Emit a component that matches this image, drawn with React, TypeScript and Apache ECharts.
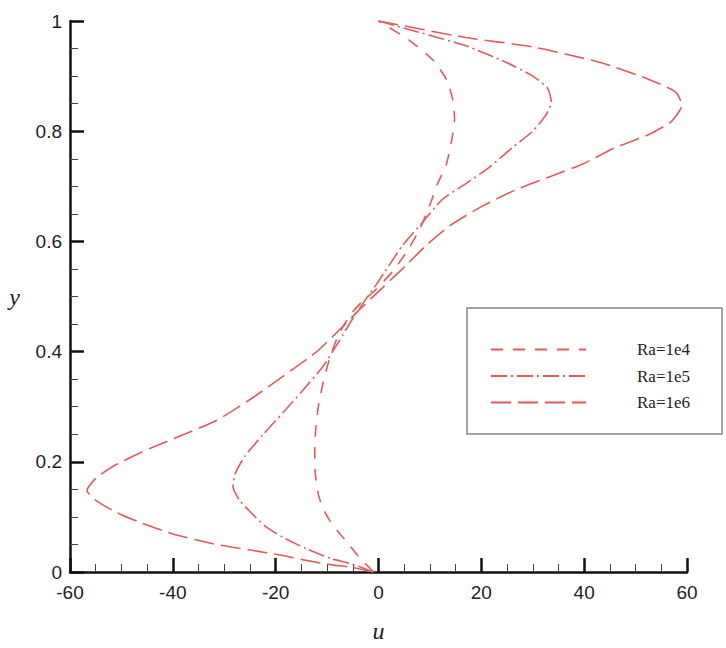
import React, { useEffect, useRef } from "react";
import * as echarts from "echarts";

const seriesNames = ["Ra=1e4", "Ra=1e5", "Ra=1e6"];

const ra1e4: [number, number][] = [
  [-1, 0], [-2.1, 0.011], [-3.7, 0.026], [-6.0, 0.053], [-8, 0.075], [-9.6, 0.095],
  [-11, 0.12], [-11.8, 0.145], [-12.3, 0.18], [-12.4, 0.22], [-12.2, 0.26], [-11.7, 0.3],
  [-10.9, 0.338], [-9.6, 0.385], [-7.8, 0.43], [-5.6, 0.465], [-3.3, 0.49], [-0.8, 0.51],
  [2.7, 0.545], [5.4, 0.58], [8, 0.622], [9.9, 0.664], [11.5, 0.705], [13.2, 0.74],
  [14.2, 0.782], [14.8, 0.823], [14.4, 0.859], [13.2, 0.894], [10.5, 0.93], [6, 0.965], [0, 1],
];

const ra1e5: [number, number][] = [
  [-1, 0], [-5, 0.014], [-9.4, 0.025], [-14, 0.042], [-18.6, 0.063], [-22, 0.083],
  [-24.5, 0.105], [-27, 0.13], [-28.3, 0.155], [-27.8, 0.18], [-26, 0.21], [-22.5, 0.249],
  [-18.6, 0.289], [-14.7, 0.33], [-10.8, 0.373], [-7.6, 0.42], [-5, 0.46], [-3, 0.488],
  [-0.4, 0.522], [2.1, 0.557], [4.7, 0.593], [8.5, 0.634], [12.4, 0.676], [17, 0.705],
  [21.6, 0.735], [26, 0.77], [30, 0.8], [32.6, 0.83], [33.6, 0.853], [32.9, 0.878],
  [30, 0.9], [24.8, 0.925], [17, 0.955], [7.3, 0.981], [0, 1],
];

const ra1e6: [number, number][] = [
  [-1, 0], [-5.5, 0.009], [-9, 0.013], [-14.6, 0.022], [-18.6, 0.03], [-25, 0.04],
  [-31.5, 0.05], [-40, 0.069], [-46.4, 0.09], [-50.9, 0.108], [-55, 0.13], [-56.7, 0.148],
  [-55, 0.17], [-51, 0.195], [-44.5, 0.224], [-38, 0.249], [-31.5, 0.275], [-25, 0.313],
  [-18.6, 0.355], [-12, 0.4], [-7, 0.445], [-3.5, 0.478], [0.8, 0.516], [5.4, 0.557],
  [9.3, 0.593], [13.8, 0.628], [20.2, 0.664], [26.8, 0.694], [33.2, 0.717], [39.6, 0.74],
  [46, 0.77], [52.6, 0.794], [57, 0.818], [59, 0.847], [57.8, 0.871], [52.6, 0.894],
  [43, 0.925], [30, 0.953], [17, 0.97], [0, 1],
];

const seriesData = [ra1e4, ra1e5, ra1e6];
const dashes = [[12, 10], [16, 4, 2, 4], [20, 7]];
const lineColor = "#e05c5c";

export default function App() {
  const ref = useRef<HTMLDivElement>(null);
  useEffect(() => {
    if (!ref.current) return;
    const chart = echarts.init(ref.current, null, { renderer: "svg" });
    const axisCommon = {
      axisLine: { show: true, onZero: false, lineStyle: { color: "#111", width: 2.5 } },
      axisTick: { show: true, inside: true, length: 14, lineStyle: { color: "#111", width: 2.5 } },
      minorTick: { show: true, splitNumber: 4, length: 8, lineStyle: { color: "#444", width: 1 } },
      splitLine: { show: false },
      axisLabel: { fontFamily: "Liberation Sans", fontSize: 19, color: "#222" },
    };
    chart.setOption({
      animation: false,
      backgroundColor: "#fff",
      grid: { left: 70, top: 21, width: 617, height: 562, containLabel: false },
      xAxis: {
        type: "value",
        min: -60,
        max: 60,
        interval: 20,
        name: "u",
        nameLocation: "middle",
        nameGap: 47,
        nameTextStyle: { fontFamily: "Liberation Serif", fontStyle: "italic", fontSize: 24, color: "#222" },
        ...axisCommon,
        axisLabel: { ...axisCommon.axisLabel, margin: 11 },
      },
      yAxis: {
        type: "value",
        min: 0,
        max: 1,
        interval: 0.2,
        name: "y",
        nameLocation: "middle",
        nameRotate: 0,
        nameGap: 50,
        nameTextStyle: { fontFamily: "Liberation Serif", fontStyle: "italic", fontSize: 24, color: "#222" },
        ...axisCommon,
        axisLabel: { ...axisCommon.axisLabel, margin: 8 },
      },
      legend: {
        orient: "vertical",
        left: 467,
        top: 308,
        padding: [33, 32, 23, 23],
        borderColor: "#888",
        borderWidth: 1.5,
        itemWidth: 95,
        itemHeight: 14,
        itemGap: 9.5,
        itemStyle: { opacity: 0 },
        lineStyle: { opacity: 1 },
        textStyle: { fontFamily: "Liberation Serif", fontSize: 17, color: "#222", padding: [0, 0, 0, 46] },
        data: seriesNames,
      },
      series: seriesNames.map((name, i) => ({
        name,
        type: "line",
        data: seriesData[i],
        symbol: "none",
        smooth: 0.2,
        lineStyle: { color: lineColor, width: 1.6, type: dashes[i] },
        itemStyle: { color: lineColor },
      })),
    });
    return () => chart.dispose();
  }, []);
  return (
    <div
      ref={ref}
      style={{ position: "fixed", left: 0, top: 0, width: 726, height: 648, background: "#fff" }}
    />
  );
}
